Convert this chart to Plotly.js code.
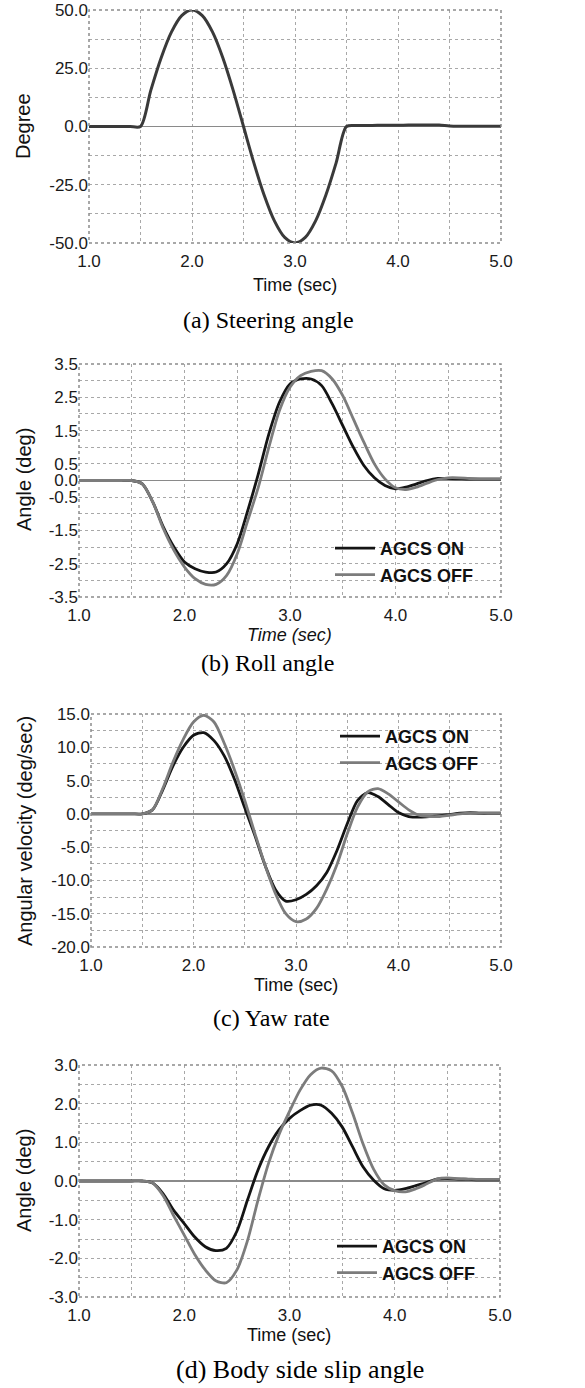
<!DOCTYPE html>
<html>
<head>
<meta charset="utf-8">
<script src="https://cdn.plot.ly/plotly-3.0.1.min.js"></script>
<style>
  html, body { margin: 0; padding: 0; background: #fff; }
  #chart { width: 585px; height: 1388px; }
</style>
</head>
<body>
<div id="chart"></div>
<script>
// ---------------- DATA ----------------
const time = [1.0,1.1,1.2,1.3,1.4,1.5,1.6,1.7,1.8,1.9,2.0,2.1,2.2,2.3,2.4,2.5,2.6,2.7,2.8,2.9,3.0,
              3.1,3.2,3.3,3.4,3.5,3.6,3.7,3.8,3.9,4.0,4.1,4.2,4.3,4.4,4.5,4.6,4.7,4.8,4.9,5.0];

// (a) Steering angle (deg)
const steering = [0,0,0,0,0,0, 15.5,29.4,40.5,47.6,50, 47.6,40.5,29.4,15.5,0,
                  -15.5,-29.4,-40.5,-47.6,-50, -47.6,-40.5,-29.4,-15.5,0,
                  0.4,0.4,0.5,0.5,0.5, 0.6,0.6,0.6,0.6,0.2, 0.1,0.1,0.1,0.1,0.1];

// (b) Roll angle (deg)
const rollOn  = [0,0,0,0,0,0, -0.1,-0.65,-1.4,-2.0,-2.45, -2.65,-2.75,-2.75,-2.5,-1.9,
                 -0.9,0.2,1.4,2.35,2.9, 3.05,3.05,2.85,2.3,1.65, 1.0,0.45,0.08,-0.15,-0.25,
                 -0.2,-0.1,0.0,0.06,0.06, 0.05,0.04,0.04,0.04,0.04];
const rollOff = [0,0,0,0,0,0, -0.1,-0.65,-1.45,-2.1,-2.6, -2.95,-3.12,-3.12,-2.85,-2.2,
                 -1.2,-0.2,1.0,2.1,2.8, 3.15,3.28,3.3,3.05,2.55, 1.85,1.15,0.5,0.05,-0.22,
                 -0.27,-0.2,-0.08,0.03,0.08, 0.08,0.06,0.05,0.05,0.05];

// (c) Yaw rate (deg/sec)
const yawOn  = [0,0,0,0,0,0, 0.6,3.6,7.2,10.0,11.8, 12.2,11.0,8.7,5.2,0.9,
                -3.3,-7.8,-11.4,-13.1,-12.9, -12.1,-10.8,-8.8,-5.5,-1.5, 2.0,3.2,2.6,1.4,0.2,
                -0.4,-0.5,-0.4,-0.3,-0.1, 0.1,0.2,0.1,0.1,0.1];
const yawOff = [0,0,0,0,0,0, 0.6,3.8,7.8,11.2,13.8, 14.8,13.8,10.6,6.6,2.0,
                -3.0,-7.8,-12.0,-15.0,-16.2, -15.8,-14.2,-11.3,-7.6,-3.0, 1.0,3.3,3.8,3.0,1.8,
                0.6,-0.2,-0.4,-0.4,-0.2, 0.0,0.1,0.1,0.1,0.1];

// (d) Body side slip angle (deg)
const slipOn  = [0,0,0,0,0,0, 0,-0.05,-0.33,-0.76,-1.1, -1.45,-1.7,-1.8,-1.74,-1.3,
                 -0.5,0.28,0.88,1.32,1.62, 1.82,1.96,1.96,1.75,1.4, 0.88,0.36,0.02,-0.2,-0.24,
                 -0.2,-0.12,-0.04,0.05,0.06, 0.05,0.04,0.03,0.03,0.03];
const slipOff = [0,0,0,0,0,0, 0,-0.05,-0.38,-0.9,-1.4, -1.9,-2.3,-2.58,-2.63,-2.3,
                 -1.55,-0.5,0.45,1.2,1.8, 2.35,2.75,2.92,2.85,2.45, 1.75,0.95,0.3,-0.1,-0.25,
                 -0.28,-0.2,-0.08,0.05,0.08, 0.06,0.05,0.04,0.04,0.04];

// Tick values / labels
const xTickVals = [1.0,1.5,2.0,2.5,3.0,3.5,4.0,4.5,5.0];
const xTickText = ['1.0','','2.0','','3.0','','4.0','','5.0'];
const aTickVals = [-50,-37.5,-25,-12.5,0,12.5,25,37.5,50];
const aTickText = ['-50.0','','-25.0','','0.0','','25.0','','50.0'];
const bTickVals = [-3.5,-3,-2.5,-2,-1.5,-1,-0.5,0,0.5,1,1.5,2,2.5,3,3.5];
const bTickText = ['-3.5','','-2.5','','-1.5','','-0.5','0.0','0.5','','1.5','','2.5','','3.5'];
const cTickVals = [-20,-17.5,-15,-12.5,-10,-7.5,-5,-2.5,0,2.5,5,7.5,10,12.5,15];
const cTickText = ['-20.0','','-15.0','','-10.0','','-5.0','','0.0','','5.0','','10.0','','15.0'];
const dTickVals = [-3,-2.5,-2,-1.5,-1,-0.5,0,0.5,1,1.5,2,2.5,3];
const dTickText = ['-3.0','','-2.0','','-1.0','','0.0','','1.0','','2.0','','3.0'];

const seriesNames = ['AGCS ON','AGCS OFF'];
const captions = ['(a) Steering angle','(b) Roll angle','(c) Yaw rate','(d) Body side slip angle'];
const yTitles = ['Degree','Angle (deg)','Angular velocity (deg/sec)','Angle (deg)'];
const xTitle = 'Time (sec)';

// ---------------- LAYOUT HELPERS ----------------
const W = 585, H = 1388;
const px = v => v / W;
const py = v => 1 - v / H;

// plot boxes in pixels: [left, top, right, bottom]
const boxes = [
  [89, 10, 501, 243],
  [79, 364, 501, 597],
  [91, 714, 501, 947],
  [79, 1065, 500, 1297]
];

const ON_COLOR = '#141414', OFF_COLOR = '#7c7c7c';
const FONT = 'Liberation Sans, Arial, sans-serif';

function xAxis(i) {
  const b = boxes[i];
  return {
    domain: [px(b[0]), px(b[2])], anchor: i === 0 ? 'y' : 'y' + (i + 1),
    range: [1, 5], tickvals: xTickVals, ticktext: xTickText,
    showgrid: true, gridcolor: '#a8a8a8', griddash: 'dot', gridwidth: 1,
    zeroline: false, showline: false,
    ticks: 'outside', ticklen: 3, tickcolor: 'rgba(0,0,0,0)',
    tickfont: { family: FONT, size: 17, color: '#1a1a1a' }, fixedrange: true
  };
}
function yAxis(i, vals, text, range) {
  const b = boxes[i];
  return {
    domain: [py(b[3]), py(b[1])], anchor: i === 0 ? 'x' : 'x' + (i + 1),
    range: range, tickvals: vals, ticktext: text,
    showgrid: true, gridcolor: '#a8a8a8', griddash: 'dot', gridwidth: 1,
    zeroline: true, zerolinecolor: '#8a8a8a', zerolinewidth: 1.5,
    showline: false, ticks: '', ticklen: 0,
    tickfont: { family: FONT, size: 17, color: '#1a1a1a' }, fixedrange: true
  };
}

const traces = [
  { x: time, y: steering, xaxis: 'x', yaxis: 'y', type: 'scatter', mode: 'lines',
    line: { color: '#3a3a3a', width: 3, shape: 'spline', smoothing: 0.8 }, showlegend: false },

  { x: time, y: rollOn, xaxis: 'x2', yaxis: 'y2', type: 'scatter', mode: 'lines', name: seriesNames[0],
    legend: 'legend', line: { color: ON_COLOR, width: 2.8, shape: 'spline', smoothing: 0.8 } },
  { x: time, y: rollOff, xaxis: 'x2', yaxis: 'y2', type: 'scatter', mode: 'lines', name: seriesNames[1],
    legend: 'legend', line: { color: OFF_COLOR, width: 2.8, shape: 'spline', smoothing: 0.8 } },

  { x: time, y: yawOn, xaxis: 'x3', yaxis: 'y3', type: 'scatter', mode: 'lines', name: seriesNames[0],
    legend: 'legend2', line: { color: ON_COLOR, width: 2.8, shape: 'spline', smoothing: 0.8 } },
  { x: time, y: yawOff, xaxis: 'x3', yaxis: 'y3', type: 'scatter', mode: 'lines', name: seriesNames[1],
    legend: 'legend2', line: { color: OFF_COLOR, width: 2.8, shape: 'spline', smoothing: 0.8 } },

  { x: time, y: slipOn, xaxis: 'x4', yaxis: 'y4', type: 'scatter', mode: 'lines', name: seriesNames[0],
    legend: 'legend3', line: { color: ON_COLOR, width: 2.8, shape: 'spline', smoothing: 0.8 } },
  { x: time, y: slipOff, xaxis: 'x4', yaxis: 'y4', type: 'scatter', mode: 'lines', name: seriesNames[1],
    legend: 'legend3', line: { color: OFF_COLOR, width: 2.8, shape: 'spline', smoothing: 0.8 } }
];

function legendAt(xPix, yPix) {
  return {
    x: px(xPix), y: py(yPix), xanchor: 'left', yanchor: 'top',
    bgcolor: 'rgba(0,0,0,0)', borderwidth: 0, traceorder: 'normal', itemwidth: 40,
    font: { family: FONT, size: 18, weight: 'bold', color: '#111' }
  };
}

// annotation positions (pixels)
const yTitlePos = [[23, 126], [24, 480], [25, 831], [24, 1181]];
const xTitlePos = [[295, 285], [289, 635], [296, 985], [289, 1335]];
const captionPos = [[268, 320], [267, 663], [271, 1018], [300, 1369]];
const captionSize = [24, 24, 24, 26];

const annotations = [];
for (let i = 0; i < 4; i++) {
  annotations.push({
    xref: 'paper', yref: 'paper', x: px(yTitlePos[i][0]), y: py(yTitlePos[i][1]),
    xanchor: 'center', yanchor: 'middle', textangle: -90, showarrow: false,
    text: yTitles[i], font: { family: FONT, size: 20, color: '#111' }
  });
  annotations.push({
    xref: 'paper', yref: 'paper', x: px(xTitlePos[i][0]), y: py(xTitlePos[i][1]),
    xanchor: 'center', yanchor: 'middle', showarrow: false,
    text: i === 1 ? '<i>' + xTitle + '</i>' : xTitle,
    font: { family: FONT, size: 18, color: '#111' }
  });
  annotations.push({
    xref: 'paper', yref: 'paper', x: px(captionPos[i][0]), y: py(captionPos[i][1]),
    xanchor: 'center', yanchor: 'middle', showarrow: false,
    text: captions[i], font: { family: 'Liberation Serif, Times New Roman, serif', size: captionSize[i], color: '#000' }
  });
}

const shapes = [];
for (let i = 0; i < 4; i++) {
  const s = i === 0 ? '' : String(i + 1);
  shapes.push({
    type: 'rect', xref: 'x' + s + ' domain', yref: 'y' + s + ' domain',
    x0: 0, x1: 1, y0: 0, y1: 1, line: { color: '#8c8c8c', width: 1.5, dash: 'dot' },
    fillcolor: 'rgba(0,0,0,0)', layer: 'above'
  });
}

const layout = {
  width: W, height: H,
  margin: { l: 0, r: 0, t: 0, b: 0 },
  paper_bgcolor: '#fff', plot_bgcolor: '#fff',
  font: { family: FONT, color: '#111' },
  xaxis: xAxis(0), yaxis: yAxis(0, aTickVals, aTickText, [-50, 50]),
  xaxis2: xAxis(1), yaxis2: yAxis(1, bTickVals, bTickText, [-3.5, 3.5]),
  xaxis3: xAxis(2), yaxis3: yAxis(2, cTickVals, cTickText, [-20, 15]),
  xaxis4: xAxis(3), yaxis4: yAxis(3, dTickVals, dTickText, [-3, 3]),
  legend: legendAt(330, 530),
  legend2: legendAt(335, 718),
  legend3: legendAt(332, 1228),
  annotations: annotations,
  shapes: shapes
};

Plotly.newPlot('chart', traces, layout, { staticPlot: true, displayModeBar: false });
</script>
</body>
</html>
